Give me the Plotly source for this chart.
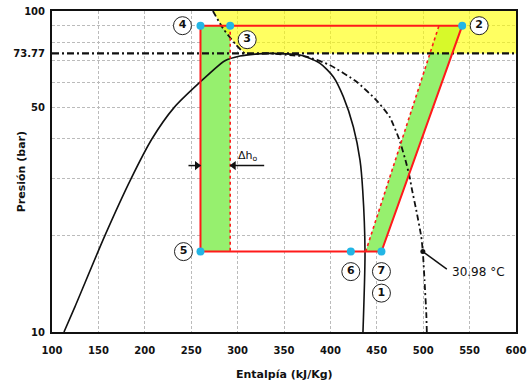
import numpy as np
import plotly.graph_objects as go

# ---------------- data ----------------
# saturation dome (CO2)
h_liq = [112.9, 124.8, 157.1, 185.1, 207.8, 231.5, 259.5, 286.4, 302.6, 318.8, 335.0]
p_liq = [10, 12, 20, 30, 40, 50, 60, 70, 72.4, 73.4, 73.77]
h_vap = [335.0, 350.0, 367.2, 388.8, 403.1, 413.9, 424.7, 431.9, 434.8, 437.3, 435.1]
p_vap = [73.77, 73.6, 72.9, 68.7, 62.4, 54.1, 43.6, 34.3, 27.7, 17.8, 10]

# critical isotherm 30.98 °C
h_iso = [273.4, 284.2, 298.6, 308.0, 335.0, 359.6, 374.0, 399.2, 427.9, 449.4, 463.7,
         474.5, 481.7, 485.3, 488.0, 492.5, 497.9, 499.6, 501.4, 503.3, 503.9]
p_iso = [100, 88.3, 78.3, 73.77, 73.77, 72.7, 72.1, 67.9, 60.3, 52.8, 46.9,
         39.6, 33.6, 30.5, 27.7, 24.0, 19.8, 17.8, 14.5, 11.5, 10]

P_crit = 73.77
P_high = 90.0
P_low = 17.8

# cycle states (enthalpy kJ/kg)
state_names = ["4", "3", "2", "5", "6", "7"]
state_h = [260, 292, 542, 260, 422, 455]
state_p = [P_high, P_high, P_high, P_low, P_low, P_low]

# isentropic (ideal) compression end points
h_ideal_start = 438
h_ideal_end = 517

P_arrow = 33.0
iso_label = "30.98 °C"

x_ticks = [100, 150, 200, 250, 300, 350, 400, 450, 500, 550, 600]
y_ticks = [10, 50, 73.77, 100]
y_tick_text = ["10", "50", "73.77", "100"]
y_grid = [20, 30, 40, 50, 60, 70, 80, 90]

# ---------------- geometry helpers ----------------
W_FIG, H_FIG = 531, 385
ML, MR, MT, MB = 52, 15, 11, 53
PW, PH = W_FIG - ML - MR, H_FIG - MT - MB
XR = (100, 600)
YR = (1, 2)


def to_px(h, p):
    return ML + (h - XR[0]) / (XR[1] - XR[0]) * PW, MT + (YR[1] - np.log10(p)) / (YR[1] - YR[0]) * PH


def to_data(x, y):
    return XR[0] + (x - ML) / PW * (XR[1] - XR[0]), 10 ** (YR[1] - (y - MT) / PH * (YR[1] - YR[0]))


def seg_from(h, p, dx, dy):
    px, py = to_px(h, p)
    return to_data(px + dx, py + dy)


S = {n: (h, p) for n, h, p in zip(state_names, state_h, state_p)}

RED = "#FF1A1A"
GREEN = "#96F06E"
CYAN = "#22B5E5"
FONT = "DejaVu Sans"

fig = go.Figure()

# green bands
h4, p4 = S["4"]; h3, p3 = S["3"]; h2, p2 = S["2"]; h5, p5 = S["5"]; h7, p7 = S["7"]; h6, p6 = S["6"]
fig.add_trace(go.Scatter(x=[h5, h3, h3, h4, h5], y=[p5, p5, p3, p4, p5], fill="toself",
                         fillcolor=GREEN, line=dict(width=0), mode="lines", hoverinfo="skip"))
fig.add_trace(go.Scatter(x=[h_ideal_start, h7, h2, h_ideal_end, h_ideal_start],
                         y=[P_low, p7, p2, P_high, P_low], fill="toself",
                         fillcolor=GREEN, line=dict(width=0), mode="lines", hoverinfo="skip"))

# yellow supercritical region
top = [(h, p) for h, p in zip(h_iso, p_iso) if p > P_crit]
first_crit = next(h for h, p in zip(h_iso, p_iso) if p <= P_crit)
yx = [h for h, _ in top] + [first_crit, XR[1], XR[1], top[0][0]]
yy = [p for _, p in top] + [P_crit, P_crit, 100, 100]
fig.add_trace(go.Scatter(x=yx, y=yy, fill="toself", fillcolor="rgba(255,255,0,0.62)",
                         line=dict(width=0), mode="lines", hoverinfo="skip"))

# critical pressure line
fig.add_trace(go.Scatter(x=[XR[0], XR[1]], y=[P_crit, P_crit], mode="lines",
                         line=dict(color="#111", width=2.2, dash="7px,3px,2px,3px")))

# saturation dome
fig.add_trace(go.Scatter(x=h_liq + h_vap[1:], y=p_liq + p_vap[1:], mode="lines",
                         line=dict(color="#111", width=1.6, shape="spline", smoothing=0.7)))

# critical isotherm
fig.add_trace(go.Scatter(x=h_iso, y=p_iso, mode="lines",
                         line=dict(color="#111", width=1.8, dash="6px,3px,2px,3px",
                                   shape="spline", smoothing=0.5)))

# real cycle (solid red)
fig.add_trace(go.Scatter(x=[h4, h2, h7, h5, h4], y=[p4, p2, p7, p5, p4], mode="lines",
                         line=dict(color=RED, width=2)))
# ideal lines (dotted red)
fig.add_trace(go.Scatter(x=[h3, h3, None, h_ideal_start, h_ideal_end],
                         y=[P_high, P_low, None, P_low, P_high], mode="lines",
                         line=dict(color=RED, width=1.6, dash="dot")))

# Δh_o arrows (shafts + heads)
l0 = seg_from(h4, P_arrow, -12, 0)
r0 = seg_from(h3, P_arrow, 34, 0)
fig.add_trace(go.Scatter(x=[l0[0], h4, None, h3, r0[0]], y=[P_arrow, P_arrow, None, P_arrow, P_arrow],
                         mode="lines", line=dict(color="#111", width=1.5)))
hl = seg_from(h4, P_arrow, -3.5, 0)
hr = seg_from(h3, P_arrow, 3.5, 0)
fig.add_trace(go.Scatter(x=[hl[0]], y=[P_arrow], mode="markers",
                         marker=dict(symbol="triangle-right", size=8, color="#111")))
fig.add_trace(go.Scatter(x=[hr[0]], y=[P_arrow], mode="markers",
                         marker=dict(symbol="triangle-left", size=8, color="#111")))

# state points
fig.add_trace(go.Scatter(x=state_h, y=state_p, mode="markers",
                         marker=dict(color=CYAN, size=8, line=dict(width=0))))

# callout for the isotherm label
i_lab = p_iso.index(P_low)
ex, ey = seg_from(h_iso[i_lab], p_iso[i_lab], 24, 17.5)
fig.add_trace(go.Scatter(x=[h_iso[i_lab], ex], y=[p_iso[i_lab], ey], mode="lines",
                         line=dict(color="#111", width=1.5)))
fig.add_trace(go.Scatter(x=[h_iso[i_lab]], y=[p_iso[i_lab]], mode="markers",
                         marker=dict(color="#111", size=5)))

# circled labels (pixel offsets from the state points)
label_defs = [("4", "4", -18, 0), ("3", "3", 17, 14), ("2", "2", 17, 0),
              ("5", "5", -17, 0), ("6", "6", 0, 20), ("7", "7", 0, 20), ("1", "7", 0, 41.5)]
lx, ly, lt = [], [], []
for txt, st, dx, dy in label_defs:
    hx, pyv = seg_from(*S[st], dx, dy)
    lx.append(hx); ly.append(pyv); lt.append(txt)
fig.add_trace(go.Scatter(x=lx, y=ly, mode="markers+text", text=lt, textposition="middle center",
                         textfont=dict(family=FONT, size=11, color="#111", weight="bold"),
                         marker=dict(symbol="circle", size=18, color="white",
                                     line=dict(color="#222", width=1))))

ann = []
ann.append(dict(x=h3, y=np.log10(P_arrow), xref="x", yref="y", xshift=18, yshift=10,
                text="Δh<sub>o</sub>", showarrow=False,
                font=dict(family=FONT, size=11, color="#111")))
ann.append(dict(x=h_iso[i_lab], y=np.log10(p_iso[i_lab]), xref="x", yref="y", xshift=56,
                yshift=-20, text=iso_label, showarrow=False,
                font=dict(family=FONT, size=12, color="#111")))
# axis titles
ann.append(dict(x=(21.7 - ML) / PW, y=0.5, xref="paper", yref="paper", text="Presión (bar)",
                textangle=-90, showarrow=False, xanchor="center", yanchor="middle",
                font=dict(family=FONT, size=11, color="#111", weight="bold")))
ann.append(dict(x=0.5, y=-(374 - (MT + PH)) / PH, xref="paper", yref="paper",
                text="Entalpía (kJ/Kg)", showarrow=False, xanchor="center", yanchor="middle",
                font=dict(family=FONT, size=11, color="#111", weight="bold")))

fig.update_layout(
    width=W_FIG, height=H_FIG, margin=dict(l=ML, r=MR, t=MT, b=MB, autoexpand=False),
    paper_bgcolor="white", plot_bgcolor="white", showlegend=False,
    annotations=ann,
    xaxis=dict(range=list(XR), tickvals=x_ticks, ticktext=[str(v) for v in x_ticks],
               showgrid=True, gridcolor="#BBBBBB", gridwidth=1, griddash="3px,2px",
               showline=True, linecolor="#111", linewidth=2, mirror=True, automargin=False,
               ticks="outside", ticklen=8, tickcolor="rgba(0,0,0,0)", zeroline=False,
               tickfont=dict(family=FONT, size=10, color="#111", weight="bold")),
    yaxis=dict(type="log", range=list(YR), tickvals=y_ticks, ticktext=y_tick_text,
               showgrid=False, showline=True, linecolor="#111", linewidth=2, mirror=True,
               automargin=False,
               ticks="outside", ticklen=3, tickcolor="rgba(0,0,0,0)", zeroline=False,
               minor=dict(tickmode="array", tickvals=y_grid, showgrid=True, gridcolor="#BBBBBB",
                          gridwidth=1, griddash="3px,2px", ticks=""),
               tickfont=dict(family=FONT, size=10, color="#111", weight="bold")),
)

fig.write_html("out.html")
